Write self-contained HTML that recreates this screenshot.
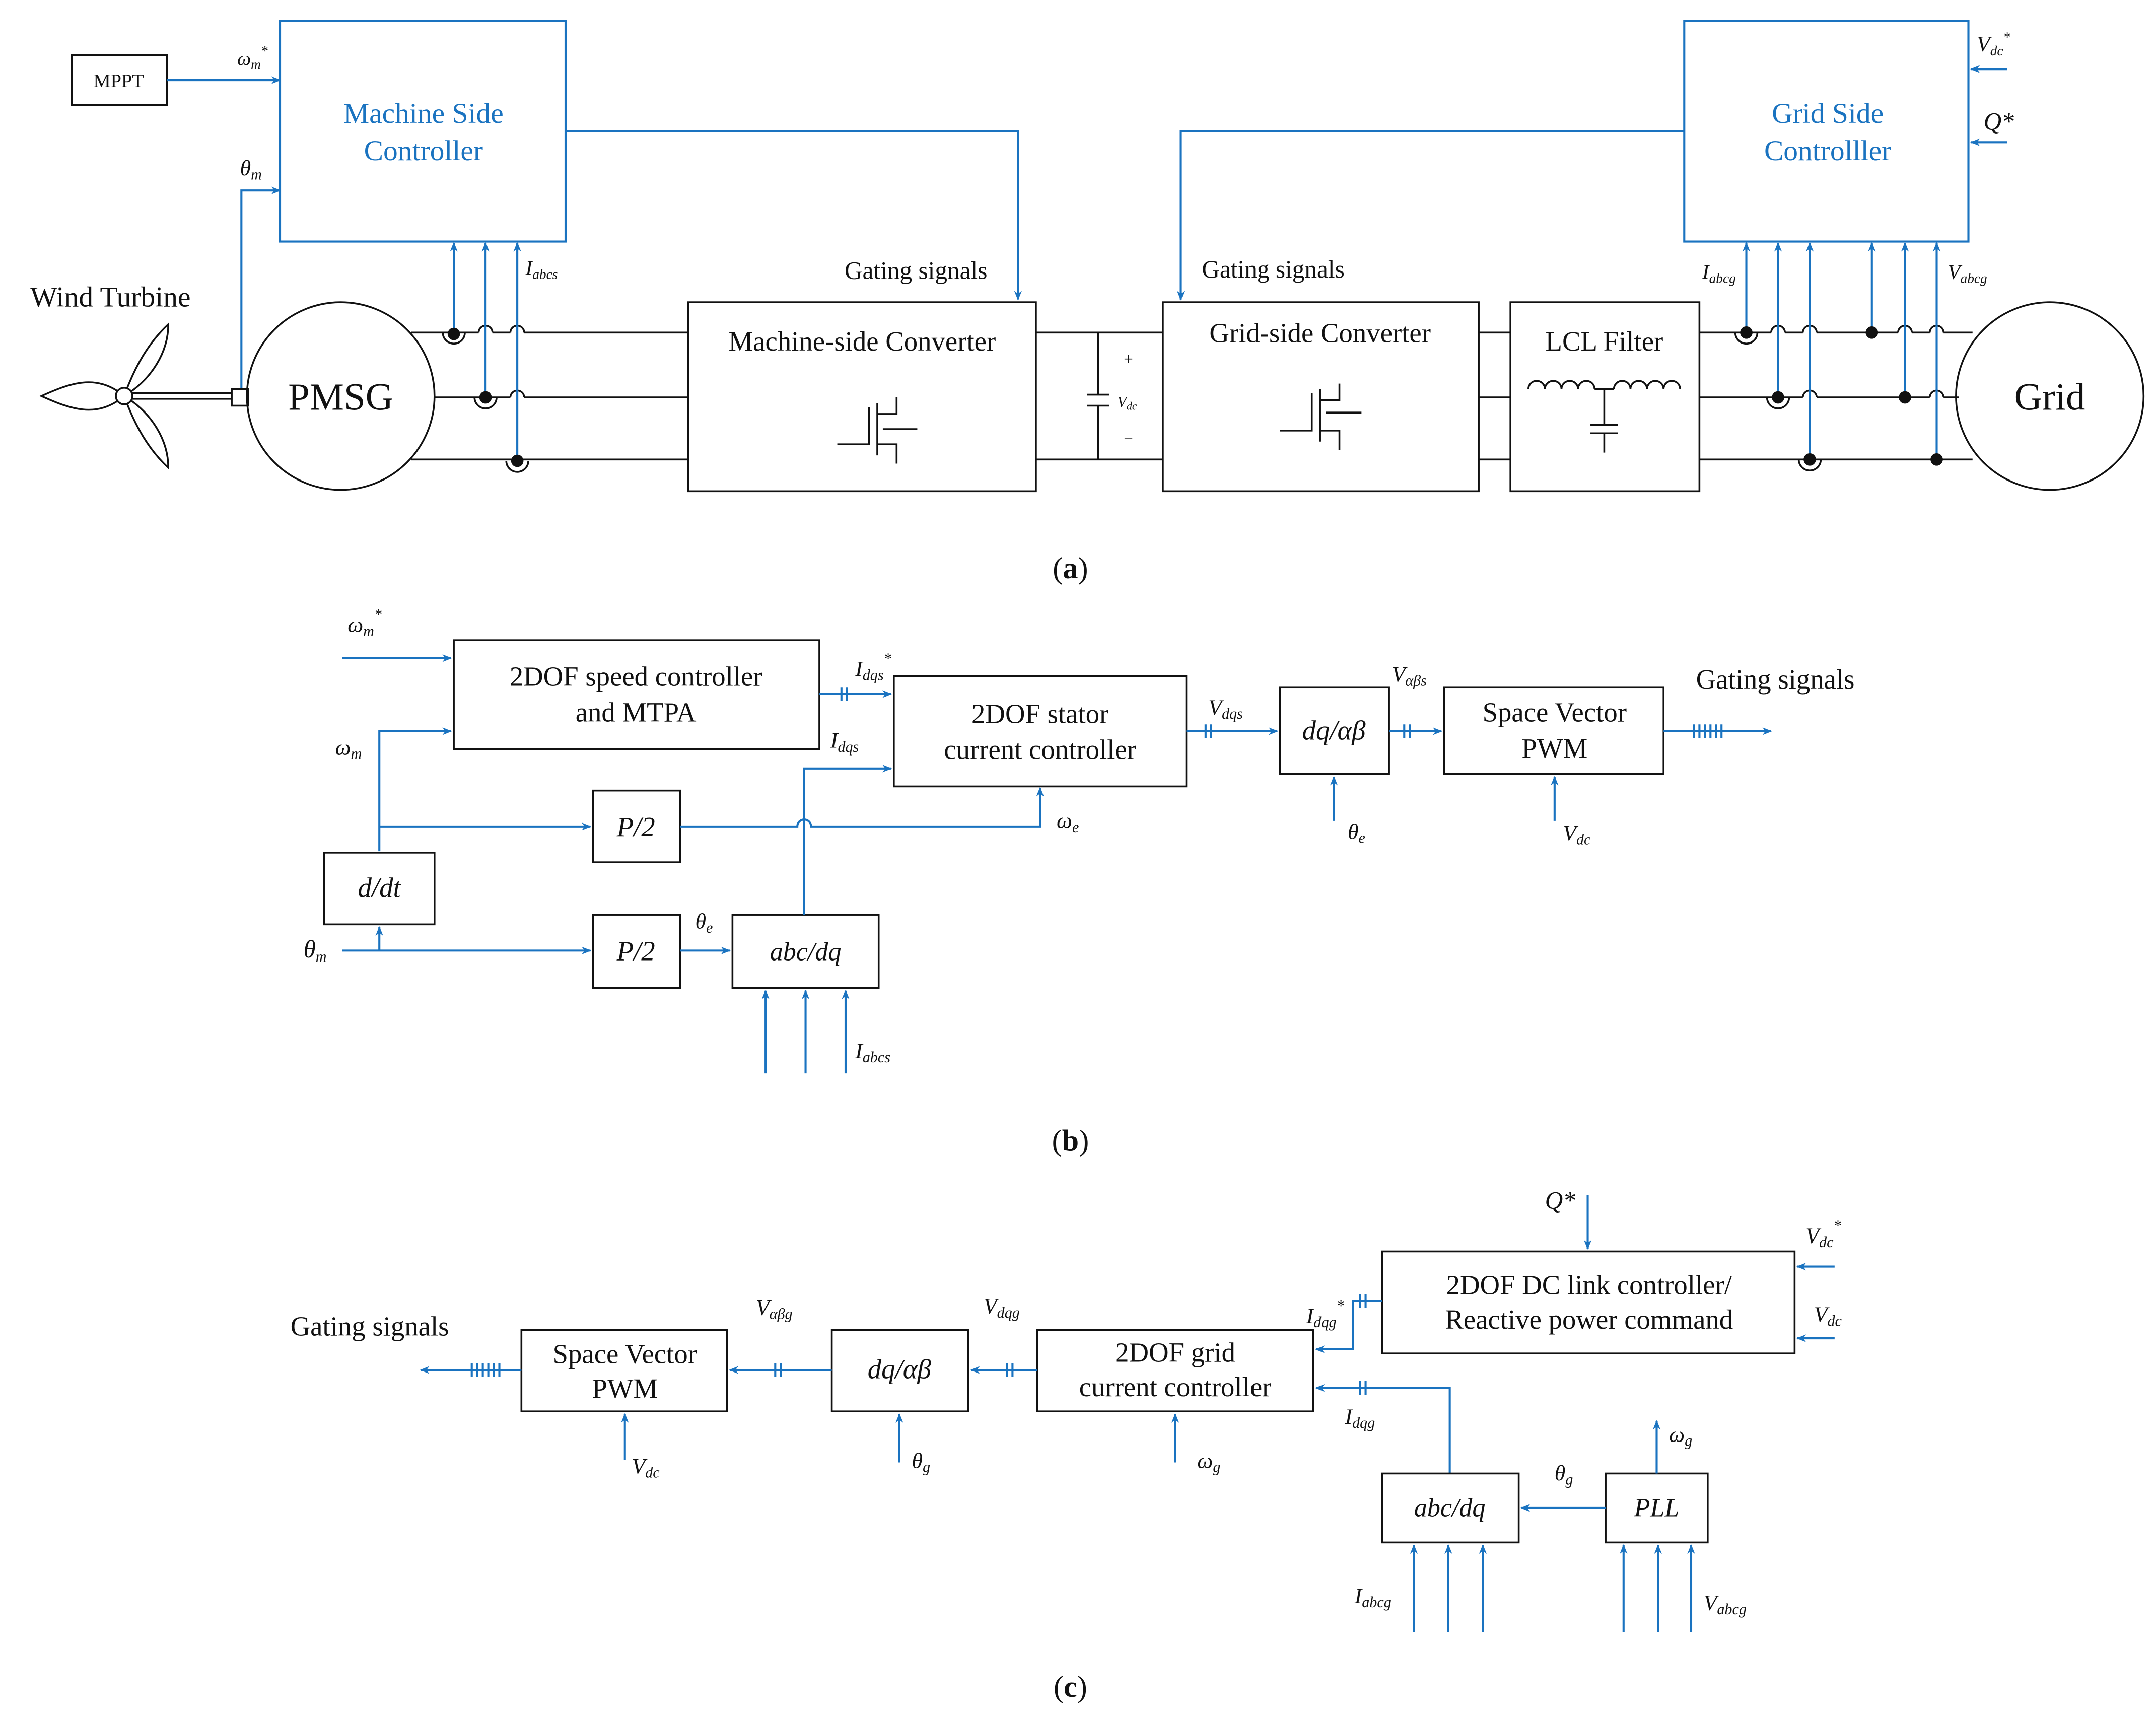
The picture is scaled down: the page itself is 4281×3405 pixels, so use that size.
<!DOCTYPE html>
<html><head><meta charset="utf-8"><style>html,body{margin:0;padding:0;background:#fff}svg{display:block}
text{font-family:"Liberation Serif",serif;fill:#111}
.b{stroke:#1a73c0;fill:none;stroke-width:1.5}
.k{stroke:#111;fill:none;stroke-width:1.3}
.i{font-style:italic}
</style></head><body>
<svg width="4281" height="3405" viewBox="0 0 1563 1243" xmlns="http://www.w3.org/2000/svg">
<defs>
<marker id="a" viewBox="0 0 10 10" refX="9" refY="5" markerWidth="7" markerHeight="7" orient="auto" markerUnits="userSpaceOnUse"><path d="M0,1 L10,5 L0,9 L3,5z" fill="#1a73c0"/></marker>
</defs>
<rect width="1563" height="1243" fill="#fff"/>
<!-- (a) -->
<rect x="52" y="40" width="69" height="36" class="k"/>
<text x="86" y="63" font-size="14" text-anchor="middle">MPPT</text>
<path d="M121,58 H203" class="b" marker-end="url(#a)"/>
<text x="172" y="47" font-size="14" class="i">ω<tspan font-size="10" dy="3">m</tspan><tspan font-size="10" dy="-10">*</tspan></text>
<rect x="203" y="15" width="207" height="160" class="b" stroke-width="1"/>
<text x="307" y="89" font-size="21" text-anchor="middle" style="fill:#1a73c0">Machine Side</text>
<text x="307" y="116" font-size="21" text-anchor="middle" style="fill:#1a73c0">Controller</text>
<path d="M175,288 V138 H203" class="b" marker-end="url(#a)"/>
<text x="174" y="127" font-size="16" class="i">θ<tspan font-size="11" dy="3">m</tspan></text>
<path d="M410,95 H738 V217" class="b" marker-end="url(#a)"/>
<text x="664" y="202" font-size="18" text-anchor="middle">Gating signals</text>
<text x="80" y="222" font-size="21" text-anchor="middle">Wind Turbine</text>
<g class="k" stroke-width="1.2">
<path d="M90,287 C70,270 50,278 30,287 C50,296 70,304 90,287z"/>
<path d="M90,287 C98,265 108,248 122,235 C122,255 110,275 90,287z"/>
<path d="M90,287 C98,309 108,326 122,339 C122,319 110,299 90,287z"/>
<circle cx="90" cy="287" r="6" fill="#fff"/>
<path d="M96,285 H168 M96,289 H168"/>
<rect x="168" y="282" width="12" height="12" fill="#fff"/>
</g>
<circle cx="247" cy="287" r="68" class="k"/>
<text x="247" y="297" font-size="28" text-anchor="middle">PMSG</text>
<path d="M298,241 H499 M315,288 H499 M298,333 H499" class="k"/>
<path d="M751,241 H843 M751,333 H843 M796,241 V286 M796,294 V333 M788,286 H804 M788,294 H804" class="k"/>
<path d="M1072,241 H1095 M1072,288 H1095 M1072,333 H1095" class="k"/>
<path d="M1232,241 H1430 M1232,288 H1420 M1232,333 H1430" class="k"/>
<!-- hops -->
<g stroke="#fff" stroke-width="3" fill="none">
<path d="M347,241 h10 M370,241 h10 M370,288 h10 M1284,241 h10 M1307,241 h10 M1307,288 h10 M1376,241 h10 M1399,241 h10 M1399,288 h10"/>
</g>
<g class="k">
<path d="M347,241 a5,5 0 0 1 10,0 M370,241 a5,5 0 0 1 10,0 M370,288 a5,5 0 0 1 10,0 M1284,241 a5,5 0 0 1 10,0 M1307,241 a5,5 0 0 1 10,0 M1307,288 a5,5 0 0 1 10,0 M1376,241 a5,5 0 0 1 10,0 M1399,241 a5,5 0 0 1 10,0 M1399,288 a5,5 0 0 1 10,0"/>
<path d="M321,241 a8,8 0 0 0 16,0 M344,288 a8,8 0 0 0 16,0 M367,334 a8,8 0 0 0 16,0 M1258,241 a8,8 0 0 0 16,0 M1281,288 a8,8 0 0 0 16,0 M1304,333 a8,8 0 0 0 16,0"/>
</g>
<g class="b"><path d="M329,241 V176" marker-end="url(#a)"/><path d="M352,288 V176" marker-end="url(#a)"/><path d="M375,334 V176" marker-end="url(#a)"/></g>
<g fill="#111"><circle cx="329" cy="242" r="4.5"/><circle cx="352" cy="288" r="4.5"/><circle cx="375" cy="334" r="4.5"/></g>
<text x="381" y="199" font-size="15" class="i">I<tspan font-size="10" dy="3">abcs</tspan></text>
<rect x="499" y="219" width="252" height="137" class="k"/>
<text x="625" y="254" font-size="20" text-anchor="middle">Machine-side Converter</text>
<g class="k" stroke-width="2.5"><path d="M607,322 H630 V295 M636,292 V330 M636,300 H650 V288 M636,322 H650 V336 M640,311 H665"/></g>
<text x="818" y="264" font-size="12" text-anchor="middle">+</text>
<text x="810" y="295" font-size="11" class="i">V<tspan font-size="8" dy="2">dc</tspan></text>
<text x="818" y="322" font-size="12" text-anchor="middle">−</text>
<rect x="843" y="219" width="229" height="137" class="k"/>
<text x="957" y="248" font-size="20" text-anchor="middle">Grid-side Converter</text>
<g class="k" stroke-width="2.5"><path d="M928,312 H951 V285 M957,282 V320 M957,290 H971 V278 M957,312 H971 V326 M961,299 H987"/></g>
<path d="M1221,95 H856 V217" class="b" marker-end="url(#a)"/>
<text x="923" y="201" font-size="18" text-anchor="middle">Gating signals</text>
<rect x="1095" y="219" width="137" height="137" class="k"/>
<text x="1163" y="254" font-size="20" text-anchor="middle">LCL Filter</text>
<path d="M1108,282 a6,6 0 0 1 12,0 a6,6 0 0 1 12,0 a6,6 0 0 1 12,0 a6,6 0 0 1 12,0 M1170,282 a6,6 0 0 1 12,0 a6,6 0 0 1 12,0 a6,6 0 0 1 12,0 a6,6 0 0 1 12,0 M1156,282 H1170 M1163,282 V308 M1153,308 H1173 M1153,314 H1173 M1163,314 V328" class="k"/>
<circle cx="1486" cy="287" r="68" class="k"/>
<text x="1486" y="297" font-size="28" text-anchor="middle">Grid</text>
<g class="b"><path d="M1266,241 V176" marker-end="url(#a)"/><path d="M1289,288 V176" marker-end="url(#a)"/><path d="M1312,333 V176" marker-end="url(#a)"/><path d="M1357,241 V176" marker-end="url(#a)"/><path d="M1381,288 V176" marker-end="url(#a)"/><path d="M1404,333 V176" marker-end="url(#a)"/></g>
<g fill="#111"><circle cx="1266" cy="241" r="4.5"/><circle cx="1289" cy="288" r="4.5"/><circle cx="1312" cy="333" r="4.5"/><circle cx="1357" cy="241" r="4.5"/><circle cx="1381" cy="288" r="4.5"/><circle cx="1404" cy="333" r="4.5"/></g>
<text x="1234" y="202" font-size="15" class="i">I<tspan font-size="10" dy="3">abcg</tspan></text>
<text x="1412" y="202" font-size="15" class="i">V<tspan font-size="10" dy="3">abcg</tspan></text>
<rect x="1221" y="15" width="206" height="160" class="b" stroke-width="1"/>
<text x="1325" y="89" font-size="21" text-anchor="middle" style="fill:#1a73c0">Grid Side</text>
<text x="1325" y="116" font-size="21" text-anchor="middle" style="fill:#1a73c0">Controlller</text>
<path d="M1455,50 H1429" class="b" marker-end="url(#a)"/>
<text x="1433" y="37" font-size="16" class="i">V<tspan font-size="10" dy="3">dc</tspan><tspan font-size="10" dy="-10">*</tspan></text>
<path d="M1455,103 H1429" class="b" marker-end="url(#a)"/>
<text x="1438" y="94" font-size="18" class="i">Q*</text>
<text x="776" y="419" font-size="22" text-anchor="middle"><tspan>(</tspan><tspan font-weight="bold">a</tspan><tspan>)</tspan></text>
<!-- (b) -->
<text x="252" y="458" font-size="16" class="i">ω<tspan font-size="11" dy="3">m</tspan><tspan font-size="11" dy="-12">*</tspan></text>
<path d="M248,477 H327" class="b" marker-end="url(#a)"/>
<rect x="329" y="464" width="265" height="79" class="k"/>
<text x="461" y="497" font-size="20" text-anchor="middle">2DOF speed controller</text>
<text x="461" y="523" font-size="20" text-anchor="middle">and MTPA</text>
<text x="243" y="547" font-size="16" class="i">ω<tspan font-size="11" dy="3">m</tspan></text>
<path d="M275,617 V530 H327" class="b" marker-end="url(#a)"/>
<path d="M275,599 H428" class="b" marker-end="url(#a)"/>
<rect x="235" y="618" width="80" height="52" class="k"/>
<text x="275" y="650" font-size="20" text-anchor="middle" class="i">d/dt</text>
<path d="M275,689 V672" class="b" marker-end="url(#a)"/>
<path d="M248,689 H428" class="b" marker-end="url(#a)"/>
<text x="220" y="694" font-size="18" class="i">θ<tspan font-size="11" dy="3">m</tspan></text>
<rect x="430" y="573" width="63" height="52" class="k"/>
<text x="461" y="606" font-size="20" text-anchor="middle" class="i">P/2</text>
<rect x="430" y="663" width="63" height="53" class="k"/>
<text x="461" y="696" font-size="20" text-anchor="middle" class="i">P/2</text>
<path d="M493,599 H578 a5,5 0 0 1 10,0 H754 V571" class="b" marker-end="url(#a)"/>
<text x="766" y="600" font-size="16" class="i">ω<tspan font-size="11" dy="3">e</tspan></text>
<path d="M493,689 H529" class="b" marker-end="url(#a)"/>
<text x="504" y="673" font-size="16" class="i">θ<tspan font-size="11" dy="3">e</tspan></text>
<rect x="531" y="663" width="106" height="53" class="k"/>
<text x="584" y="696" font-size="19" text-anchor="middle" class="i">abc/dq</text>
<path d="M583,663 V557 H646" class="b" marker-end="url(#a)"/>
<text x="602" y="542" font-size="16" class="i">I<tspan font-size="11" dy="3">dqs</tspan></text>
<g class="b"><path d="M555,778 V718" marker-end="url(#a)"/><path d="M584,778 V718" marker-end="url(#a)"/><path d="M613,778 V718" marker-end="url(#a)"/></g>
<text x="620" y="767" font-size="16" class="i">I<tspan font-size="11" dy="3">abcs</tspan></text>
<path d="M594,503 H646" class="b" marker-end="url(#a)"/>
<path d="M610,498 V508 M614,498 V508" class="b"/>
<text x="620" y="490" font-size="16" class="i">I<tspan font-size="11" dy="3">dqs</tspan><tspan font-size="11" dy="-12">*</tspan></text>
<rect x="648" y="490" width="212" height="80" class="k"/>
<text x="754" y="524" font-size="20" text-anchor="middle">2DOF stator</text>
<text x="754" y="550" font-size="20" text-anchor="middle">current controller</text>
<path d="M860,530 H926" class="b" marker-end="url(#a)"/>
<path d="M874,525 V535 M878,525 V535" class="b"/>
<text x="876" y="518" font-size="16" class="i">V<tspan font-size="11" dy="3">dqs</tspan></text>
<rect x="928" y="498" width="79" height="63" class="k"/>
<text x="967" y="536" font-size="20" text-anchor="middle" class="i">dq/αβ</text>
<path d="M967,595 V563" class="b" marker-end="url(#a)"/>
<text x="977" y="608" font-size="16" class="i">θ<tspan font-size="11" dy="3">e</tspan></text>
<path d="M1007,530 H1045" class="b" marker-end="url(#a)"/>
<path d="M1018,525 V535 M1022,525 V535" class="b"/>
<text x="1009" y="494" font-size="16" class="i">V<tspan font-size="11" dy="3">αβs</tspan></text>
<rect x="1047" y="498" width="159" height="63" class="k"/>
<text x="1127" y="523" font-size="20" text-anchor="middle">Space Vector</text>
<text x="1127" y="549" font-size="20" text-anchor="middle">PWM</text>
<path d="M1127,595 V563" class="b" marker-end="url(#a)"/>
<text x="1133" y="609" font-size="16" class="i">V<tspan font-size="11" dy="3">dc</tspan></text>
<path d="M1206,530 H1284" class="b" marker-end="url(#a)"/>
<path d="M1228,525 V535 M1232,525 V535 M1236,525 V535 M1240,525 V535 M1244,525 V535 M1248,525 V535" class="b"/>
<text x="1287" y="499" font-size="20" text-anchor="middle">Gating signals</text>
<text x="776" y="834" font-size="22" text-anchor="middle"><tspan>(</tspan><tspan font-weight="bold">b</tspan><tspan>)</tspan></text>
<!-- (c) -->
<text x="1120" y="876" font-size="18" class="i">Q*</text>
<path d="M1151,866 V905" class="b" marker-end="url(#a)"/>
<rect x="1002" y="907" width="299" height="74" class="k"/>
<text x="1152" y="938" font-size="20" text-anchor="middle">2DOF DC link controller/</text>
<text x="1152" y="963" font-size="20" text-anchor="middle">Reactive power command</text>
<path d="M1330,918 H1303" class="b" marker-end="url(#a)"/>
<text x="1309" y="901" font-size="16" class="i">V<tspan font-size="11" dy="3">dc</tspan><tspan font-size="11" dy="-12">*</tspan></text>
<path d="M1330,970 H1303" class="b" marker-end="url(#a)"/>
<text x="1315" y="958" font-size="16" class="i">V<tspan font-size="11" dy="3">dc</tspan></text>
<path d="M1002,943 H981 V978 H954" class="b" marker-end="url(#a)"/>
<path d="M986,938 V948 M990,938 V948" class="b"/>
<text x="947" y="959" font-size="16" class="i">I<tspan font-size="11" dy="3">dqg</tspan><tspan font-size="11" dy="-12">*</tspan></text>
<rect x="752" y="964" width="200" height="59" class="k"/>
<text x="852" y="987" font-size="20" text-anchor="middle">2DOF grid</text>
<text x="852" y="1012" font-size="20" text-anchor="middle">current controller</text>
<path d="M1051,1068 V1006 H954" class="b" marker-end="url(#a)"/>
<path d="M986,1001 V1011 M990,1001 V1011" class="b"/>
<text x="975" y="1032" font-size="16" class="i">I<tspan font-size="11" dy="3">dqg</tspan></text>
<path d="M852,1060 V1025" class="b" marker-end="url(#a)"/>
<text x="868" y="1064" font-size="16" class="i">ω<tspan font-size="11" dy="3">g</tspan></text>
<path d="M752,993 H704" class="b" marker-end="url(#a)"/>
<path d="M730,988 V998 M734,988 V998" class="b"/>
<text x="713" y="952" font-size="16" class="i">V<tspan font-size="11" dy="3">dqg</tspan></text>
<rect x="603" y="964" width="99" height="59" class="k" stroke="#888"/>
<text x="652" y="999" font-size="20" text-anchor="middle" class="i">dq/αβ</text>
<path d="M652,1060 V1025" class="b" marker-end="url(#a)"/>
<text x="661" y="1064" font-size="16" class="i">θ<tspan font-size="11" dy="3">g</tspan></text>
<path d="M603,993 H529" class="b" marker-end="url(#a)"/>
<path d="M562,988 V998 M566,988 V998" class="b"/>
<text x="548" y="953" font-size="16" class="i">V<tspan font-size="11" dy="3">αβg</tspan></text>
<rect x="378" y="964" width="149" height="59" class="k"/>
<text x="453" y="988" font-size="20" text-anchor="middle">Space Vector</text>
<text x="453" y="1013" font-size="20" text-anchor="middle">PWM</text>
<path d="M453,1058 V1025" class="b" marker-end="url(#a)"/>
<text x="458" y="1068" font-size="16" class="i">V<tspan font-size="11" dy="3">dc</tspan></text>
<path d="M378,993 H305" class="b" marker-end="url(#a)"/>
<path d="M342,988 V998 M346,988 V998 M350,988 V998 M354,988 V998 M358,988 V998 M362,988 V998" class="b"/>
<text x="268" y="968" font-size="20" text-anchor="middle">Gating signals</text>
<rect x="1002" y="1068" width="99" height="50" class="k"/>
<text x="1051" y="1099" font-size="19" text-anchor="middle" class="i">abc/dq</text>
<rect x="1164" y="1068" width="74" height="50" class="k"/>
<text x="1201" y="1099" font-size="19" text-anchor="middle" class="i">PLL</text>
<path d="M1164,1093 H1103" class="b" marker-end="url(#a)"/>
<text x="1127" y="1073" font-size="16" class="i">θ<tspan font-size="11" dy="3">g</tspan></text>
<path d="M1201,1068 V1030" class="b" marker-end="url(#a)"/>
<text x="1210" y="1045" font-size="16" class="i">ω<tspan font-size="11" dy="3">g</tspan></text>
<g class="b"><path d="M1025,1183 V1120" marker-end="url(#a)"/><path d="M1050,1183 V1120" marker-end="url(#a)"/><path d="M1075,1183 V1120" marker-end="url(#a)"/><path d="M1177,1183 V1120" marker-end="url(#a)"/><path d="M1202,1183 V1120" marker-end="url(#a)"/><path d="M1226,1183 V1120" marker-end="url(#a)"/></g>
<text x="982" y="1162" font-size="16" class="i">I<tspan font-size="11" dy="3">abcg</tspan></text>
<text x="1235" y="1167" font-size="16" class="i">V<tspan font-size="11" dy="3">abcg</tspan></text>
<text x="776" y="1230" font-size="22" text-anchor="middle"><tspan>(</tspan><tspan font-weight="bold">c</tspan><tspan>)</tspan></text>
</svg>
</body></html>
